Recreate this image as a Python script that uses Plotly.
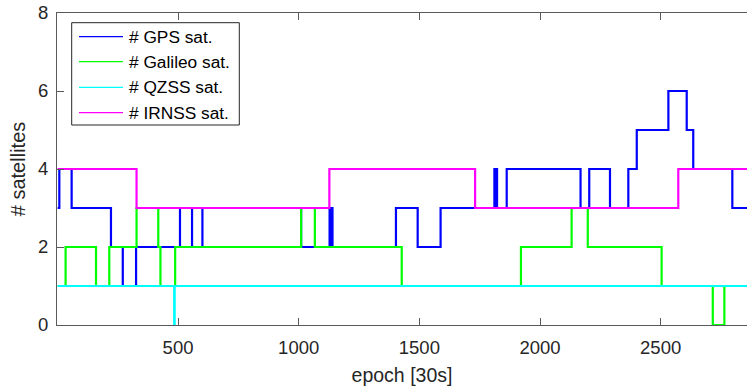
import plotly.graph_objects as go

# change points (epoch, value after change); last point closes at end epoch
gps_x = [1, 8, 59, 222, 271, 326, 508, 558, 601, 1010, 1128, 1132, 1136, 1140,
         1403, 1493, 1588, 1811, 1815, 1818, 1822, 1862, 2168, 2204, 2290, 2366,
         2401, 2532, 2608, 2635, 2797, 2880]
gps_y = [3, 4, 3, 2, 1, 2, 3, 2, 3, 2, 3, 2, 3, 2,
         3, 2, 3, 4, 3, 4, 3, 4, 3, 4, 3, 4,
         5, 6, 5, 4, 3, 3]

gal_x = [1, 34, 160, 215, 328, 418, 427, 488, 1010, 1067, 1427, 1921, 2131, 2198,
         2504, 2716, 2764, 2880]
gal_y = [1, 2, 1, 2, 3, 2, 1, 2, 3, 2, 1, 2, 3, 2,
         1, 0, 1, 1]

qzss_x = [1, 484, 486, 2880]
qzss_y = [1, 0, 1, 1]

irnss_x = [1, 328, 1127, 1731, 2573, 2880]
irnss_y = [4, 3, 4, 3, 4, 4]

names = ["# GPS sat.", "# Galileo sat.", "# QZSS sat.", "# IRNSS sat."]
colors = ["#0000ff", "#00ff00", "#00ffff", "#ff00ff"]
series = [(gps_x, gps_y), (gal_x, gal_y), (qzss_x, qzss_y), (irnss_x, irnss_y)]

x_ticks = [500, 1000, 1500, 2000, 2500]
y_ticks = [0, 2, 4, 6, 8]

fig = go.Figure()
for (xs, ys), c, n in zip(series, colors, names):
    fig.add_trace(go.Scatter(x=xs, y=ys, mode="lines", name=n,
                             line=dict(color=c, width=2.2, shape="hv"),
                             showlegend=False, hoverinfo="skip"))

# legend box (paper coordinates, plot area 690x312 px starting at l=57, t=13)
PL, PT, PW, PH = 57, 13, 690, 312
def px(x):
    return (x - PL) / PW
def py(y):
    return (PT + PH - y) / PH

fig.add_shape(type="rect", xref="paper", yref="paper",
              x0=px(71.7), x1=px(239.3), y0=py(125), y1=py(22.7),
              line=dict(color="#262626", width=1), fillcolor="white", layer="above")
rows = [36.7, 61.7, 87.3, 112.7]
for n, c, r in zip(names, colors, rows):
    fig.add_shape(type="line", xref="paper", yref="paper",
                  x0=px(79), x1=px(123), y0=py(r), y1=py(r),
                  line=dict(color=c, width=1.2), layer="above")
    fig.add_annotation(xref="paper", yref="paper", x=px(127), y=py(r),
                       text=n, showarrow=False, xanchor="left", yanchor="middle",
                       font=dict(size=17.3, color="#000000"))

axcol = "#5a5a5a"
txtcol = "#262626"
fig.update_layout(
    width=747, height=389,
    margin=dict(l=PL, r=0, t=PT, b=64),
    plot_bgcolor="white", paper_bgcolor="white",
    showlegend=False,
    font=dict(family="Liberation Sans, Arial, sans-serif", color=txtcol, size=18.5),
    xaxis=dict(range=[-1.66, 2857.8], tickvals=x_ticks, ticks="inside", ticklen=7,
               tickcolor=axcol, showline=True, linecolor=axcol, linewidth=1,
               mirror="ticks", showgrid=False, zeroline=False,
               tickfont=dict(size=18.5, color=txtcol), ticklabelstandoff=6,
               title=dict(text="epoch [30s]", font=dict(size=19.5, color=txtcol), standoff=11)),
    yaxis=dict(range=[0, 8], tickvals=y_ticks, ticks="inside", ticklen=7,
               tickcolor=axcol, showline=True, linecolor=axcol, linewidth=1,
               mirror=False, showgrid=False, zeroline=False,
               tickfont=dict(size=18.5, color=txtcol), ticklabelstandoff=4,
               title=dict(text="# satellites", font=dict(size=20, color=txtcol), standoff=7)),
)

fig.write_html("out.html")
